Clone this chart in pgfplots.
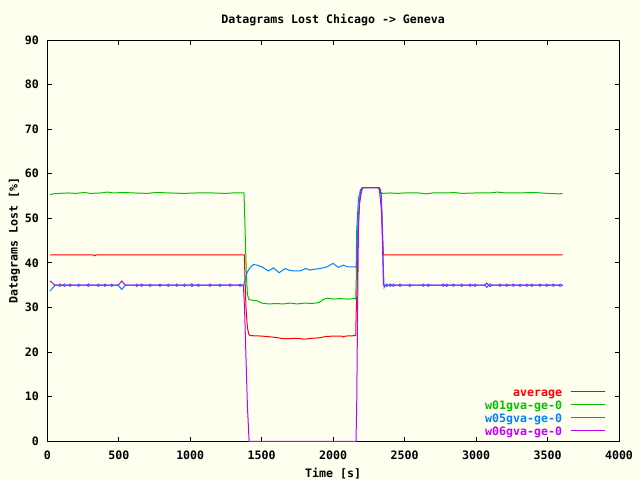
\documentclass[border=0pt]{standalone}
\usepackage{fontspec}
\setmainfont{DejaVu Sans Mono}
\usepackage{pgfplots}
\pgfplotsset{compat=1.18}
\definecolor{bg}{RGB}{255,255,240}
\definecolor{gpred}{RGB}{255,0,0}
\definecolor{gpgreen}{RGB}{0,192,0}
\definecolor{gpblue}{RGB}{0,128,255}
\definecolor{gppurple}{RGB}{192,0,255}
\newcommand{\gf}{\bfseries\fontsize{11.6bp}{13bp}\selectfont}
\begin{document}
\begin{tikzpicture}
\path[use as bounding box, fill=bg] (-47.3bp,-38.7bp) rectangle (592.7bp,441.3bp);
\begin{axis}[
 at={(0,0)}, anchor=south west,
 scale only axis, width=571.7bp, height=401.3bp,
 xmin=0, xmax=4000, ymin=0, ymax=90,
 xtick={0,500,...,4000}, ytick={0,10,...,90},
 clip=false,
 axis line style={black, line width=1bp},
 tick style={black, line width=1bp},
 tick align=inside, major tick length=4.5bp,
 /pgf/number format/assume math mode=true,
 /pgf/number format/set thousands separator={},
 every axis title/.style={at={(0.5,1)}, anchor=base, yshift=16.7bp, inner sep=0pt, font=\gf},
 title={Datagrams Lost Chicago -> Geneva},
 every axis x label/.style={at={(0.5,0)}, anchor=base, yshift=-36.5bp, inner sep=0pt, font=\gf},
 every axis y label/.style={at={(-0.0517,0.5)}, rotate=90, anchor=base, inner sep=0pt, font=\gf},
 xlabel={Time [s]},
 ylabel={Datagrams Lost [\%]},
 xticklabel style={anchor=base, yshift=-18.5bp, inner sep=0pt, font=\gf},
 yticklabel style={anchor=east, xshift=-8.3bp, inner sep=0pt, font=\gf},
 every axis plot/.append style={line width=1bp, mark=none},
 legend plot pos=right,
 legend cell align=right,
 legend image code/.code={\draw[#1] (0bp,0bp) -- (34.7bp,0bp);},
 legend style={at={(1,0)}, anchor=south east, xshift=-13.3bp, yshift=6bp,
   draw=none, fill=none, inner sep=0pt, outer sep=0pt,
   row sep=4bp, column sep=8bp,
   nodes={inner sep=0pt, text height=9bp, text depth=0bp, font=\gf}},
]
\addplot[gpred, forget plot] coordinates {
(19,41.8)(320,41.8)(330,41.6)(340,41.8)(1378,41.8)(1382,38)(1390,30)(1400,25.5)(1410,24)(1420,23.7)
(1500,23.6)(1600,23.3)(1650,23.0)(1750,23.1)(1800,22.9)(1850,23.1)(1900,23.2)(1950,23.5)(2000,23.6)
(2060,23.6)(2072,23.4)(2085,23.6)(2158,23.7)(2161,28.7)(2168,35)(2172,44)(2180,52)(2192,55.8)(2205,56.9)
(2320,56.9)(2330,56.5)(2338,55)(2342,49)(2348,44)(2352,41.8)(3605,41.8)
};
\addplot[gpgreen, forget plot] coordinates {
(19,55.3)(40,55.5)(80,55.6)(150,55.7)(200,55.6)(260,55.8)(300,55.6)(380,55.7)(420,55.9)(460,55.7)
(540,55.8)(600,55.7)(700,55.6)(760,55.8)(850,55.7)(950,55.6)(1050,55.7)(1150,55.7)(1250,55.6)(1300,55.7)
(1376,55.7)(1380,52)(1386,45)(1392,38)(1400,33)(1410,31.8)(1440,31.6)(1470,31.5)(1500,31.0)(1550,30.8)
(1600,30.9)(1650,30.8)(1700,31.0)(1750,30.8)(1800,31.0)(1850,30.9)(1900,31.1)(1930,31.8)(1960,32.1)
(2000,31.9)(2050,32.0)(2100,31.9)(2150,32.0)(2158,31.9)(2161,35.5)(2170,47.3)(2184,53)(2190,56.4)(2205,56.9)
(2315,56.9)(2330,56.0)(2345,55.6)(2400,55.7)(2450,55.6)(2500,55.7)(2600,55.7)(2650,55.5)(2700,55.7)
(2800,55.7)(2850,55.8)(2900,55.6)(3000,55.7)(3100,55.7)(3150,55.9)(3200,55.7)(3300,55.7)(3400,55.8)
(3500,55.6)(3580,55.5)(3605,55.6)
};
\addplot[gpblue, forget plot] coordinates {
(19,33.7)(54,35.0)
(80,35)(89,34.75)(98,35)(110,35)(120,35.25)(130,35)(150,35)(159,34.75)(168,35)
(210,35)(219,35.25)(228,35)(278,35)(287,34.7)(296,35)(348,35)(357,35.25)(366,35)
(395,35)(404,34.75)(413,35)(442,35)(451,35.25)(460,35)(496,35)(521,34.05)(546,35)
(617,35)(626,35.25)(635,35)(651,35)(660,34.75)(669,35)(710,35)(719,35.25)(728,35)
(780,35)(789,34.75)(798,35)(838,35)(847,35.25)(856,35)(897,35)(906,34.75)(915,35)
(951,35)(960,35.25)(969,35)(1002,35)(1011,34.7)(1020,35)(1048,35)(1057,35.25)(1066,35)
(1130,35)(1139,34.75)(1148,35)(1200,35)(1209,35.25)(1218,35)(1270,35)(1279,34.75)(1288,35)
(1340,35)(1349,35.25)(1358,35)
(1375,35.0)(1385,36.5)(1400,38)(1420,39.0)(1442,39.65)(1470,39.5)(1503,39.1)
(1547,38.2)(1582,38.9)(1622,37.8)(1664,38.75)(1690,38.4)(1720,38.2)(1770,38.2)(1809,38.75)(1839,38.4)
(1870,38.6)(1909,38.75)(1955,39.1)(2000,39.9)(2036,39.0)(2071,39.5)(2106,39.1)(2154,39.1)(2161,39)
(2165,47.3)(2177,54.5)(2190,56)(2205,56.9)(2320,56.9)(2335,55.5)(2345,48)(2352,38)(2357,34.5)
(2366,35)(2375,35.25)(2384,35)(2392,35)(2400,34.75)(2410,35)(2421,35.25)(2430,35)
(2459,35)(2468,34.75)(2477,35)(2529,35)(2538,35.25)(2547,35)(2622,35)(2631,34.75)(2640,35)
(2657,35)(2666,35.25)(2675,35)(2762,35)(2771,34.75)(2780,35)(2786,35)(2795,35.25)(2804,35)
(2832,35)(2841,34.75)(2850,35)(2891,35)(2900,35.25)(2909,35)(2949,35)(2958,34.75)(2967,35)
(2984,35)(2993,35.25)(3002,35)(3060,35)(3075,34.5)(3087,35)(3098,35.3)(3108,35)
(3159,35)(3168,34.75)(3177,35)(3206,35)(3215,35.25)(3224,35)(3252,35)(3261,34.75)(3270,35)
(3299,35)(3308,35.25)(3317,35)(3346,35)(3355,34.75)(3364,35)(3381,35)(3390,35.25)(3399,35)
(3439,35)(3448,34.75)(3457,35)(3486,35)(3495,35.25)(3504,35)(3532,35)(3541,34.75)(3550,35)
(3579,35)(3588,35.25)(3605,35)
};
\addplot[gppurple, forget plot] coordinates {
(19,36.0)(54,35.0)
(80,35)(89,35.25)(98,35)(110,35)(120,34.75)(130,35)(150,35)(159,35.25)(168,35)
(210,35)(219,34.75)(228,35)(278,35)(287,35.3)(296,35)(348,35)(357,34.75)(366,35)
(395,35)(404,35.25)(413,35)(442,35)(451,34.75)(460,35)(496,35)(521,35.95)(546,35)
(617,35)(626,34.75)(635,35)(651,35)(660,35.25)(669,35)(710,35)(719,34.75)(728,35)
(780,35)(789,35.25)(798,35)(838,35)(847,34.75)(856,35)(897,35)(906,35.25)(915,35)
(951,35)(960,34.75)(969,35)(1002,35)(1011,35.3)(1020,35)(1048,35)(1057,34.75)(1066,35)
(1130,35)(1139,35.25)(1148,35)(1200,35)(1209,34.75)(1218,35)(1270,35)(1279,35.25)(1288,35)
(1340,35)(1349,34.75)(1358,35)
(1372,35.0)(1380,30)(1389,20)(1400,8)(1412,0)(2160,0)(2165,8.5)(2170,26)
(2177,47.8)(2184,53.4)(2196,55.6)(2205,56.9)(2322,56.9)(2340,51)(2352,35)(2357,35)
(2366,35)(2375,34.75)(2384,35)(2392,35)(2400,35.25)(2410,35)(2421,34.75)(2430,35)
(2459,35)(2468,35.25)(2477,35)(2529,35)(2538,34.75)(2547,35)(2622,35)(2631,35.25)(2640,35)
(2657,35)(2666,34.75)(2675,35)(2762,35)(2771,35.25)(2780,35)(2786,35)(2795,34.75)(2804,35)
(2832,35)(2841,35.25)(2850,35)(2891,35)(2900,34.75)(2909,35)(2949,35)(2958,35.25)(2967,35)
(2984,35)(2993,34.75)(3002,35)(3060,35)(3075,35.5)(3087,35)(3098,34.7)(3108,35)
(3159,35)(3168,35.25)(3177,35)(3206,35)(3215,34.75)(3224,35)(3252,35)(3261,35.25)(3270,35)
(3299,35)(3308,34.75)(3317,35)(3346,35)(3355,35.25)(3364,35)(3381,35)(3390,34.75)(3399,35)
(3439,35)(3448,35.25)(3457,35)(3486,35)(3495,34.75)(3504,35)(3532,35)(3541,35.25)(3550,35)
(3579,35)(3588,34.75)(3605,35)
};
\addlegendimage{draw=gpred, line width=1bp}
\addlegendentry{\textcolor{gpred}{average}}
\addlegendimage{draw=gpgreen, line width=1bp}
\addlegendentry{\textcolor{gpgreen}{w01gva-ge-0}}
\addlegendimage{draw=gpblue, line width=1bp}
\addlegendentry{\textcolor{gpblue}{w05gva-ge-0}}
\addlegendimage{draw=gppurple, line width=1bp}
\addlegendentry{\textcolor{gppurple}{w06gva-ge-0}}
\end{axis}
\end{tikzpicture}
\end{document}
